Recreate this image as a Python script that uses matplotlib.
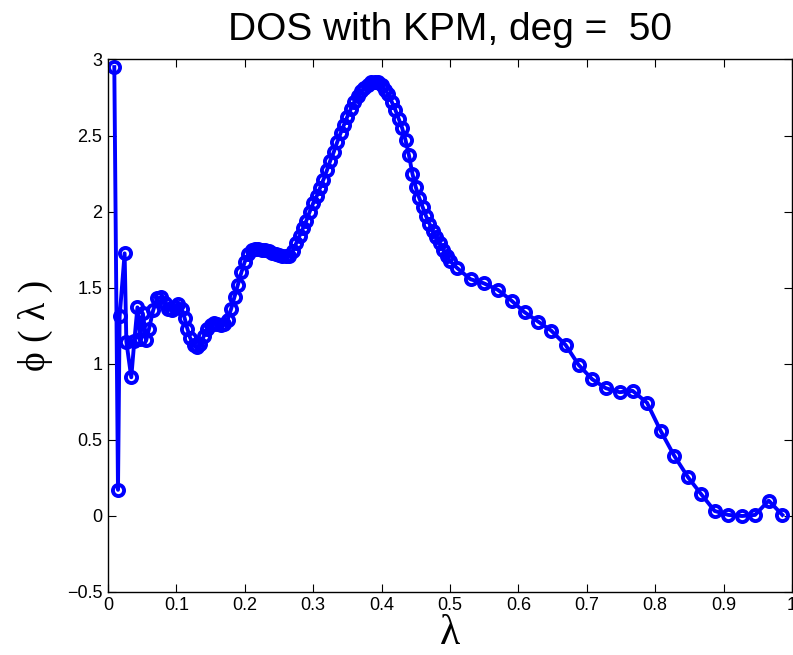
import numpy as np
import matplotlib
matplotlib.use('Agg')
import matplotlib.pyplot as plt

# eigenvalue positions (sorted) and KPM density values
lam_low = [0.0092, 0.0146, 0.0170, 0.0243, 0.0268, 0.0340, 0.0385, 0.0430,
           0.0470, 0.0510, 0.0560, 0.0600, 0.0660, 0.0720, 0.0780, 0.0830,
           0.0880, 0.0930, 0.0980, 0.1030, 0.1080, 0.1120]
phi_low = [2.95, 0.17, 1.31, 1.725, 1.145, 0.91, 1.15, 1.37,
           1.16, 1.33, 1.155, 1.23, 1.35, 1.43, 1.435, 1.40,
           1.36, 1.355, 1.375, 1.39, 1.36, 1.30]

lam_mid = [0.116, 0.120, 0.125, 0.130, 0.135, 0.140, 0.145, 0.150, 0.155,
           0.160, 0.165, 0.170, 0.175, 0.180, 0.185, 0.190, 0.195, 0.200,
           0.205, 0.210, 0.215, 0.220, 0.225, 0.230, 0.235, 0.240, 0.245,
           0.250, 0.255, 0.260, 0.265, 0.270, 0.275, 0.280, 0.285, 0.290,
           0.295, 0.300, 0.305, 0.310, 0.315, 0.320, 0.325, 0.330, 0.335,
           0.340, 0.345, 0.350, 0.355, 0.360, 0.365, 0.370, 0.375, 0.380,
           0.385, 0.390, 0.395, 0.400, 0.405, 0.410, 0.415, 0.420, 0.425,
           0.430, 0.435, 0.440, 0.445, 0.450, 0.455, 0.460, 0.465, 0.470,
           0.475, 0.480, 0.485, 0.490, 0.495, 0.500]
phi_mid = [1.23, 1.17, 1.125, 1.11, 1.13, 1.18, 1.225, 1.255, 1.265,
           1.26, 1.255, 1.26, 1.29, 1.36, 1.44, 1.52, 1.60, 1.67,
           1.72, 1.745, 1.755, 1.755, 1.75, 1.745, 1.74, 1.73, 1.72,
           1.715, 1.71, 1.705, 1.71, 1.74, 1.79, 1.84, 1.89, 1.94,
           2.00, 2.055, 2.10, 2.155, 2.21, 2.27, 2.335, 2.39, 2.455,
           2.515, 2.57, 2.625, 2.675, 2.72, 2.76, 2.79, 2.815, 2.835,
           2.85, 2.855, 2.85, 2.83, 2.80, 2.77, 2.72, 2.67, 2.61,
           2.55, 2.47, 2.37, 2.25, 2.16, 2.09, 2.03, 1.97, 1.92,
           1.87, 1.83, 1.79, 1.75, 1.71, 1.675]

lam_high = [0.5105, 0.530, 0.549, 0.570, 0.590, 0.609, 0.629, 0.648, 0.669,
            0.688, 0.708, 0.728, 0.748, 0.767, 0.788, 0.808, 0.828, 0.848,
            0.867, 0.887, 0.907, 0.927, 0.946, 0.966, 0.986]
phi_high = [1.628, 1.555, 1.529, 1.485, 1.414, 1.338, 1.276, 1.217, 1.123,
            0.992, 0.897, 0.838, 0.812, 0.821, 0.743, 0.558, 0.393, 0.253,
            0.143, 0.031, 0.005, -0.002, 0.005, 0.099, 0.005]

xticks = [0, 0.1, 0.2, 0.3, 0.4, 0.5, 0.6, 0.7, 0.8, 0.9, 1]
xticklabels = ['0', '0.1', '0.2', '0.3', '0.4', '0.5', '0.6', '0.7', '0.8', '0.9', '1']
yticks = [-0.5, 0, 0.5, 1, 1.5, 2, 2.5, 3]
yticklabels = ['\u22120.5', '0', '0.5', '1', '1.5', '2', '2.5', '3']

deg = 50

lam = np.array(lam_low + lam_mid + lam_high)
phi = np.array(phi_low + phi_mid + phi_high)

plt.rcParams['font.family'] = ['Liberation Sans', 'DejaVu Sans']
serif = ['Liberation Serif', 'DejaVu Serif']

fig = plt.figure(figsize=(7.93, 6.55), dpi=100)
ax = fig.add_axes([0.1362, 0.0966, 0.8625, 0.8126])

ax.plot(lam, phi, '-o', color='#0000ff', linewidth=2.8, markersize=8,
        markerfacecolor='none', markeredgewidth=2.8)

ax.set_xlim(0, 1)
ax.set_ylim(-0.5, 3)
ax.set_xticks(xticks)
ax.set_xticklabels(xticklabels)
ax.set_yticks(yticks)
ax.set_yticklabels(yticklabels)
ax.tick_params(direction='in', top=True, right=True, length=6, width=0.8,
               labelsize=13, pad=4)
for s in ax.spines.values():
    s.set_linewidth(1.0)

ax.set_title('DOS with KPM, deg =  ' + str(deg), fontsize=28, pad=14)
ax.set_xlabel('\u03bb', fontsize=30, family=serif, labelpad=0)
ax.set_ylabel('\u03d5 ( \u03bb )', fontsize=27, family=serif, labelpad=10)

fig.savefig('out.png', dpi=100, facecolor='w')
